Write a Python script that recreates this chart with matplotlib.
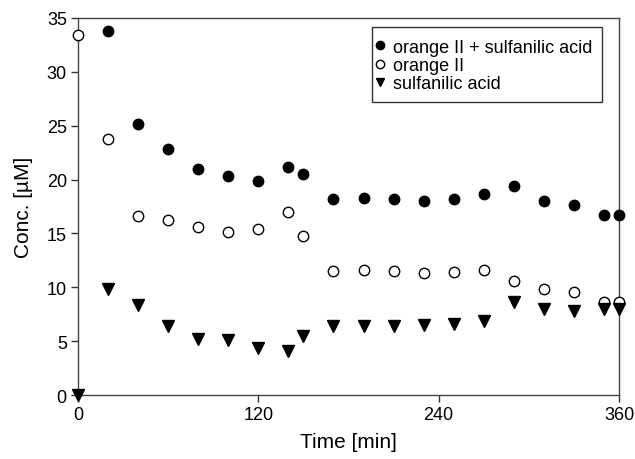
import matplotlib
matplotlib.use("Agg")
import matplotlib.pyplot as plt
from matplotlib.patches import Rectangle

plt.rcParams['font.family'] = ['Liberation Sans', 'DejaVu Sans']

# time points [min]
time_all = [0, 20, 40, 60, 80, 100, 120, 140, 150, 170, 190, 210, 230, 250, 270, 290, 310, 330, 350, 360]
time_mix = time_all[1:]

# concentrations [uM]
mix = [33.8, 25.2, 22.8, 20.95, 20.3, 19.9, 21.2, 20.5, 18.2, 18.25, 18.2, 18.05,
       18.2, 18.65, 19.4, 18.0, 17.6, 16.7, 16.7]
orange = [33.4, 23.8, 16.65, 16.25, 15.6, 15.1, 15.4, 16.95, 14.8, 11.55, 11.65, 11.5,
          11.3, 11.4, 11.6, 10.55, 9.8, 9.6, 8.6, 8.6]
sulf = [0.0, 9.85, 8.4, 6.45, 5.2, 5.1, 4.4, 4.1, 5.5, 6.45, 6.45, 6.45,
        6.5, 6.6, 6.85, 8.65, 8.0, 7.8, 8.0, 8.0]

fig = plt.figure(figsize=(6.35, 4.6), dpi=100)
ax = fig.add_axes([0.1228, 0.139, 0.852, 0.8197])

ax.plot(time_mix, mix, 'o', color='black', markersize=7.5, clip_on=False, zorder=3,
        label='orange II + sulfanilic acid')
ax.plot(time_all, orange, 'o', markerfacecolor='white', markeredgecolor='black',
        markeredgewidth=1.0, markersize=7.5, clip_on=False, zorder=3, label='orange II')
ax.plot(time_all, sulf, 'v', color='black', markersize=8, clip_on=False, zorder=3,
        label='sulfanilic acid')

ax.set_xlim(0, 360)
ax.set_ylim(0, 35)
ax.set_xticks([0, 120, 240, 360])
ax.set_yticks(range(0, 36, 5))
ax.tick_params(direction='out', length=5, width=1, labelsize=13, color='#333333', pad=3)
for s in ax.spines.values():
    s.set_color('#444444')
    s.set_linewidth(1)

ax.set_xlabel('Time [min]', fontsize=15, labelpad=6)
ax.set_ylabel('Conc. [\u00b5M]', fontsize=15, labelpad=10)

# legend box drawn by hand so the padding matches
ax.add_patch(Rectangle((0.5434, 0.777), 0.4251, 0.199, transform=ax.transAxes,
                       facecolor='white', edgecolor='#333333', linewidth=1, zorder=4))
leg = ax.legend(loc='upper left', bbox_to_anchor=(0.548, 0.945), fontsize=13,
                frameon=False, handlelength=0.6, handletextpad=0.4,
                labelspacing=0.07, borderpad=0, borderaxespad=0, markerscale=0.8)
leg.set_zorder(5)

fig.savefig('out.png', dpi=100)
